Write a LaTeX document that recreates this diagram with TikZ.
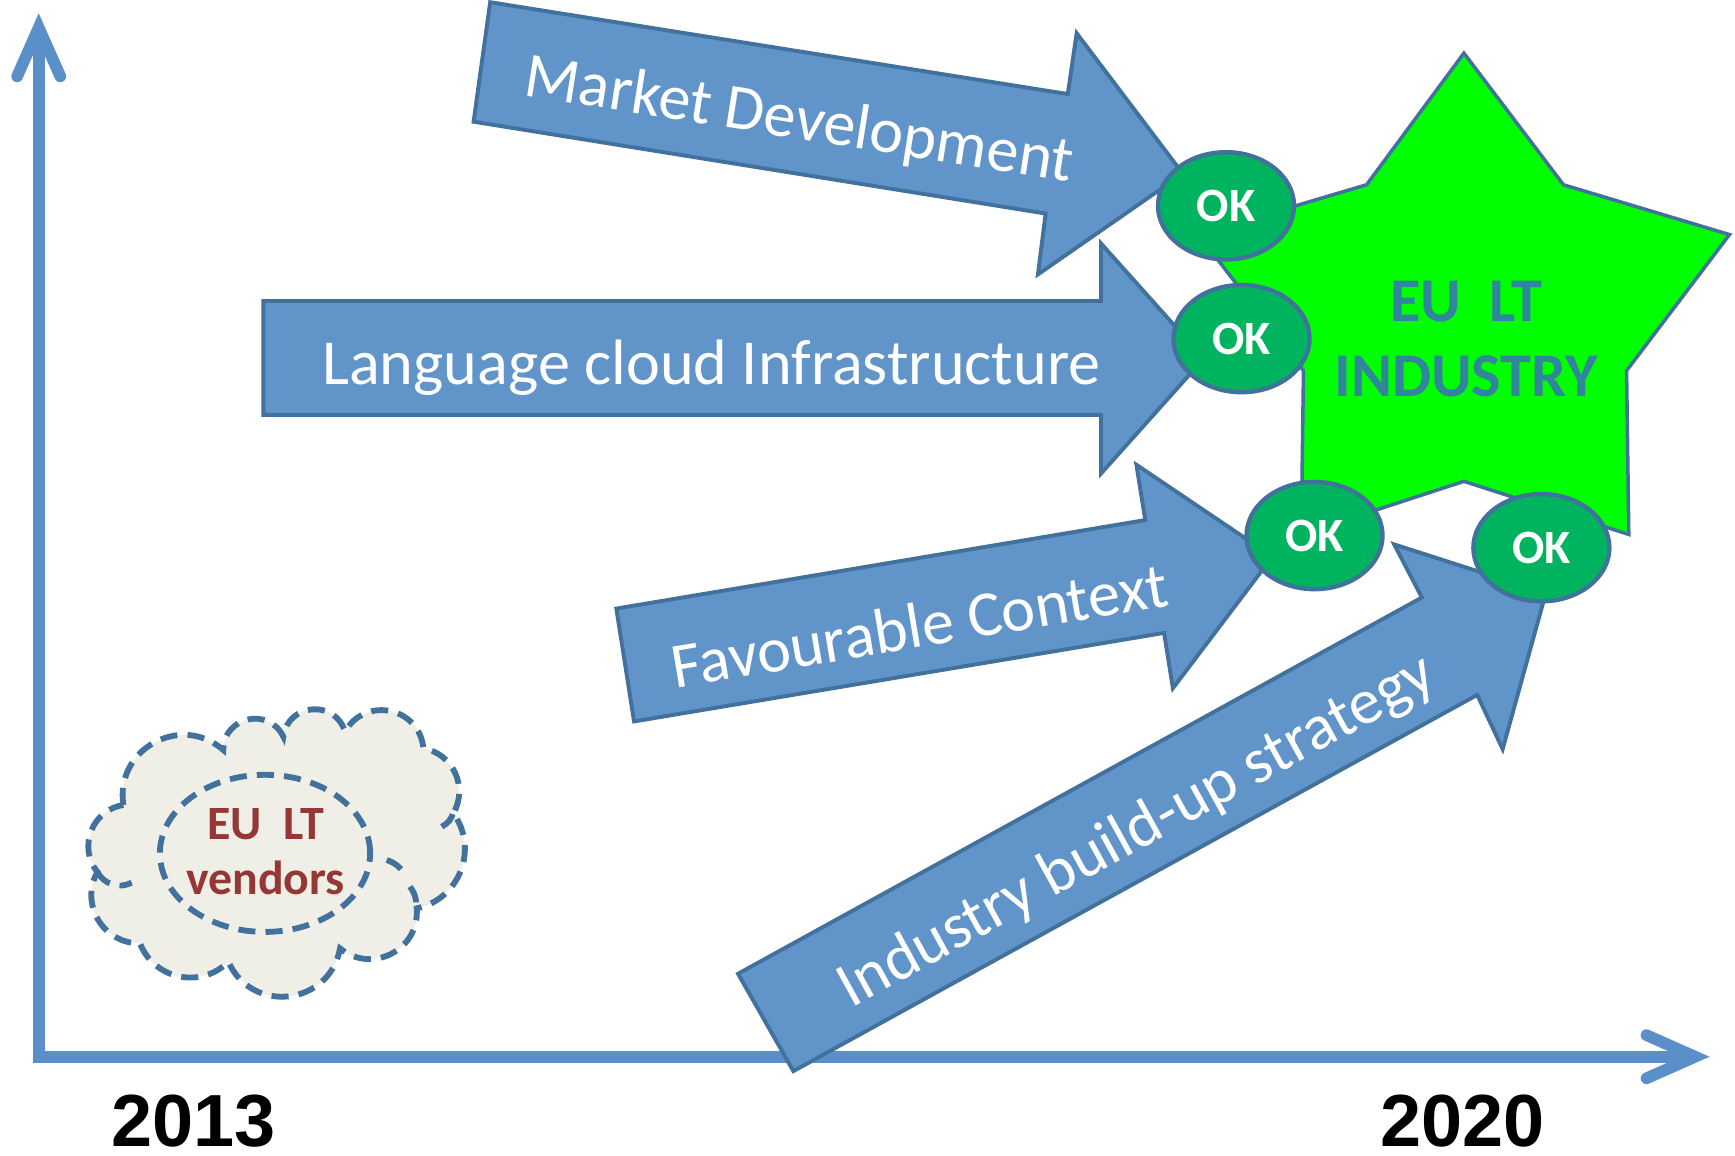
\documentclass[tikz,border=0pt]{standalone}
\usepackage{fontspec}
\setmainfont{Carlito}
\newfontfamily\arialfont{Liberation Sans}
\usetikzlibrary{arrows.meta,shapes.geometric}

\definecolor{pilfyll}{RGB}{97,149,201}
\definecolor{pillina}{RGB}{65,113,156}
\definecolor{asblar}{RGB}{91,143,201}
\definecolor{okgraenn}{RGB}{0,180,95}
\definecolor{stjgraenn}{RGB}{0,255,0}
\definecolor{stjtexti}{RGB}{49,133,156}
\definecolor{skyfyll}{RGB}{239,239,231}
\definecolor{raudur}{RGB}{149,55,53}

\begin{document}
\begin{tikzpicture}[
  >={Straight Barb[line cap=round, length=0.44cm, width=0.39cm]},
  akse/.style={draw=asblar, line width=3pt},
  pila/.style={fill=pilfyll, draw=pillina, line width=1pt, line join=miter},
  pilatexti/.style={text=white, font=\fontsize{16.5}{20}\selectfont},
  okhringur/.style={ellipse, fill=okgraenn, draw=pillina, line width=1.1pt,
    minimum width=1.23cm, minimum height=0.97cm, inner sep=0pt,
    text=white, font=\bfseries\fontsize{12.3}{14}\selectfont},
  ar/.style={inner sep=0pt, font=\arialfont\bfseries\fontsize{19}{22}\selectfont},
  skylina/.style={draw=pillina, line width=1.5pt, dash pattern=on 4.4pt off 2.6pt}
]
  \useasboundingbox (0,0) rectangle (15.68,10.44);

  % ásar
  \coordinate (o) at (0.35,0.89);
  \coordinate (yend) at (0.35,10.32);
  \coordinate (xend) at (15.45,0.89);
  \draw [akse, <->] (yend) -- (o) -- (xend);
  \node [ar] (ar1) at (1.75,0.31) {2013};
  \node [ar] (ar2) at (13.22,0.31) {2020};

  % ský
  \coordinate (s1) at (1.115,3.165);
  \coordinate (s2) at (2.018,3.662);
  \coordinate (s3) at (2.561,3.782);
  \coordinate (s4) at (3.118,3.827);
  \coordinate (s5) at (3.826,3.677);
  \coordinate (s6) at (4.097,3.090);
  \coordinate (s7) at (3.766,2.231);
  \coordinate (s8) at (3.073,1.869);
  \coordinate (s9) at (2.064,1.749);
  \coordinate (s10) at (1.265,1.915);
  \coordinate (s11) at (0.880,2.560);
  \filldraw [skylina, fill=skyfyll]
    (s1) to [bend left=70, looseness=1.27] (s2)
    to [bend left=77, looseness=1.39] (s3)
    to [bend left=78, looseness=1.41] (s4)
    to [bend left=73, looseness=1.32] (s5)
    to [bend left=55, looseness=1.08] (s6)
    to [bend left=57, looseness=1.10] (s7)
    to [bend left=67, looseness=1.22] (s8)
    to [bend left=73, looseness=1.32] (s9)
    to [bend left=57, looseness=1.10] (s10)
    to [bend left=60, looseness=1.13] (s11)
    to [bend left=60, looseness=1.13] (s1) -- cycle;
  \draw [skylina] (s11) to [bend right=45] (1.19,2.463);
  \draw [skylina] (3.495,2.668) to [bend left=20] (3.66,2.532);
  \draw [skylina] (3.705,2.427) to [bend left=25] (3.751,2.20);
  \draw [skylina] (3.992,2.969) to [bend right=25] (4.097,3.105);
  \draw [skylina] (2.395,2.728) ellipse (0.95 and 0.71);
  \node [text=raudur, font=\bfseries\fontsize{12.3}{14.2}\selectfont, align=center]
    (birgjar) at (2.40,2.74) {EU\ \ LT\\vendors};

  % stjarna
  \filldraw [fill=stjgraenn, draw=pillina, line width=0.9pt, line join=miter]
    (13.23,9.96) -- (14.13,8.77) -- (15.63,8.32) -- (14.70,7.09) -- (14.72,5.61)
    -- (13.23,6.09) -- (11.76,5.61) -- (11.78,7.09) -- (10.83,8.32) -- (12.35,8.77) -- cycle;
  \node [text=stjtexti, font=\bfseries\fontsize{16}{19.3}\selectfont, align=center]
    (idnadur) at (13.25,7.38) {EU\ \ LT\\INDUSTRY};

  % örvar
  \filldraw [pila] (4.43,10.42) -- (9.65,9.59) -- (9.73,10.14) -- (10.69,8.87)
    -- (9.38,7.96) -- (9.45,8.51) -- (4.28,9.34) -- cycle;
  \node [pilatexti, rotate=-9] (markadur) at (7.22,9.34) {Market Development};

  \filldraw [pila] (2.38,7.72) -- (9.95,7.72) -- (9.95,8.24) -- (10.88,7.20)
    -- (9.95,6.16) -- (9.95,6.69) -- (2.38,6.69) -- cycle;
  \node [pilatexti] (innvidir) at (6.43,7.12) {Language cloud Infrastructure};

  \filldraw [pila] (5.57,4.94) -- (10.35,5.74) -- (10.27,6.24) -- (11.50,5.41)
    -- (10.60,4.22) -- (10.52,4.72) -- (5.73,3.92) -- cycle;
  \node [pilatexti, rotate=9.5] (umhverfi) at (8.31,4.79) {Favourable Context};

  \filldraw [pila] (6.67,1.64) -- (12.85,5.04) -- (12.60,5.52) -- (13.97,5.08)
    -- (13.58,3.67) -- (13.35,4.16) -- (7.17,0.76) -- cycle;
  \node [pilatexti, rotate=28.8] (stefna) at (10.28,2.92) {Industry build-up strategy};

  % OK
  \node [okhringur] (ok1) at (11.08,8.58) {OK};
  \node [okhringur] (ok2) at (11.22,7.38) {OK};
  \node [okhringur] (ok3) at (11.88,5.60) {OK};
  \node [okhringur] (ok4) at (13.93,5.49) {OK};
\end{tikzpicture}
\end{document}
